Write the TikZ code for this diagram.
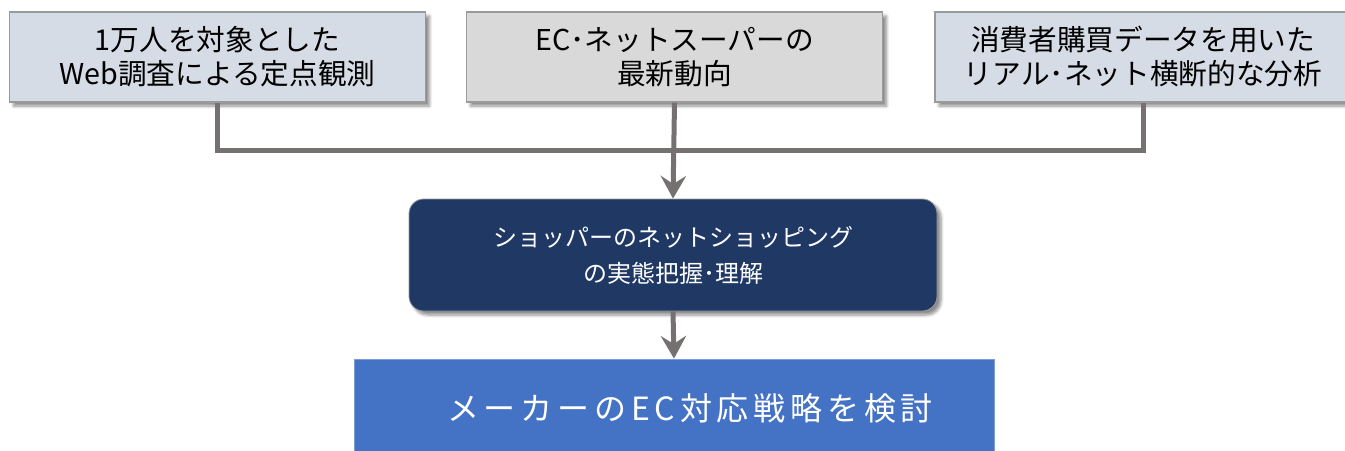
\documentclass[tikz,border=0pt]{standalone}
\usepackage{fontspec}
\setmainfont{Noto Sans CJK JP}
\newfontfamily\widejp[LetterSpace=15]{Noto Sans CJK JP}
\usetikzlibrary{arrows.meta,shadows.blur}
\definecolor{boxblue}{HTML}{D6DCE5}
\definecolor{boxgray}{HTML}{D9D9D9}
\definecolor{navy}{HTML}{203864}
\definecolor{midblue}{HTML}{4472C4}
\definecolor{conncol}{HTML}{767171}
\definecolor{edgecol}{HTML}{9A9A9A}
\tikzset{
  topbox/.style={draw=edgecol, line width=0.8pt, minimum width=312pt, minimum height=67.5pt,
    align=center, font=\fontsize{21.5pt}{25.5pt}\selectfont, text=black,
    blur shadow={shadow xshift=3pt, shadow yshift=-3pt, shadow blur steps=6, shadow opacity=45}},
  midbox/.style={draw=edgecol, line width=0.6pt, fill=navy, rounded corners=11pt, minimum width=396pt, minimum height=84pt,
    align=center, font=\fontsize{18pt}{27pt}\selectfont, text=white,
    blur shadow={shadow xshift=3pt, shadow yshift=-3pt, shadow blur steps=6, shadow opacity=45}},
  endbox/.style={draw=midblue!70!white, line width=0.6pt, fill=midblue, minimum width=480pt, minimum height=84pt},
  conn/.style={draw=conncol, line width=3.75pt},
  arr/.style={conn, -{Stealth[length=17pt, width=19pt, inset=6pt]}}
}
\begin{document}
\begin{tikzpicture}[x=0.75pt, y=-0.75pt]
\useasboundingbox (0,0) rectangle (1345,450);
\node[topbox, fill=boxblue] (b1) at (217.5,57) {1万人を対象とした\\Web調査による定点観測};
\node[topbox, fill=boxgray] (b2) at (674.5,57) {EC･ネットスーパーの\\最新動向};
\node[topbox, fill=boxblue] (b3) at (1143,57) {消費者購買データを用いた\\リアル･ネット横断的な分析};
\node[midbox] (b4) at (673,255) {ショッパーのネットショッピング\\の実態把握･理解};
\node[endbox] (b5) at (674,415) {};
\node[text=white, font=\widejp\fontsize{24pt}{28pt}\selectfont, anchor=center] (t5) at (690,408) {メーカーのEC対応戦略を検討};
\coordinate (j) at (675,150);
\draw[conn] (b1.south) |- (j) -| (b3.south);
\draw[arr] (b2.south) -- (b4.north);
\draw[arr] (b4.south) -- (b5.north);
\end{tikzpicture}
\end{document}
